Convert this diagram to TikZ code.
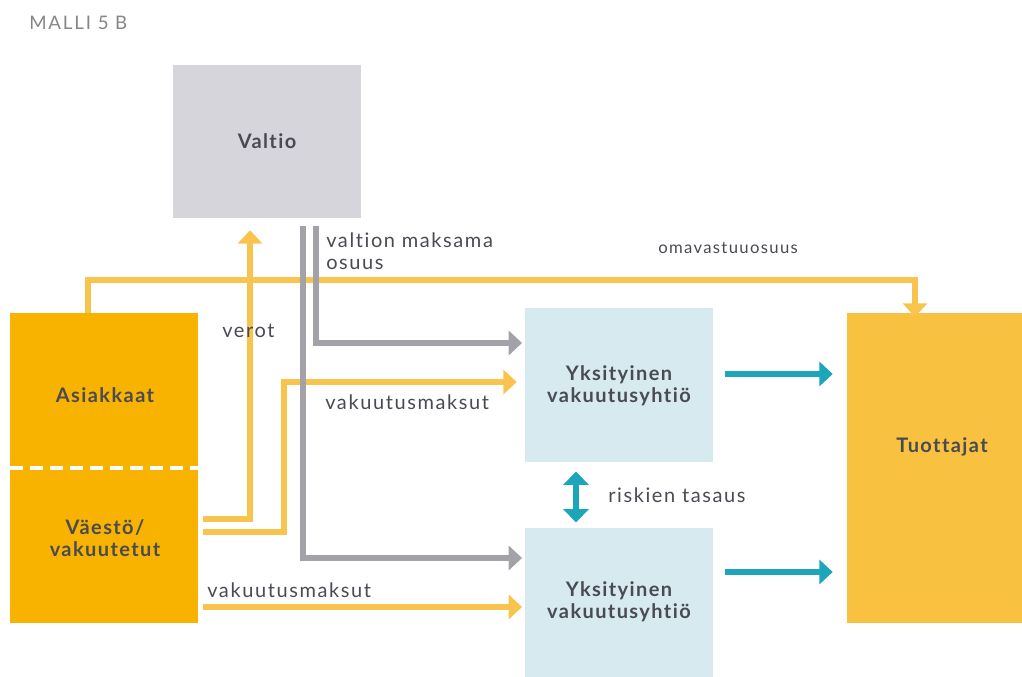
\documentclass[tikz,border=0pt]{standalone}
\usepackage{fontspec}
\setmainfont[Ligatures=NoCommon]{Lato}
\newfontfamily\labelfont[LetterSpace=8,Ligatures=NoCommon]{Lato}
\newfontfamily\boxfont[LetterSpace=7,Ligatures=NoCommon]{Lato}
\newfontfamily\titlefont[LetterSpace=10,Ligatures=NoCommon]{Lato}
\usetikzlibrary{arrows.meta,calc}

\definecolor{valtiogray}{HTML}{D7D5DC}
\definecolor{clientorange}{HTML}{F8B200}
\definecolor{prodyellow}{HTML}{F8C140}
\definecolor{insblue}{HTML}{D6EAF0}
\definecolor{flowyellow}{HTML}{F8C44E}
\definecolor{flowgray}{HTML}{A3A2A8}
\definecolor{flowteal}{HTML}{1BA6B9}
\definecolor{txtgray}{HTML}{4A4A52}
\definecolor{titlegray}{HTML}{86868A}

\tikzset{
  box/.style={rectangle, inner sep=0pt, draw=none},
  boxtext/.style={font=\boxfont\bfseries\fontsize{15}{16.5}\selectfont, text=txtgray, align=center},
  flowlabel/.style={font=\labelfont\fontsize{15}{16.5}\selectfont, text=txtgray, inner sep=0pt},
  smalllabel/.style={font=\labelfont\fontsize{12.5}{14}\selectfont, text=txtgray, inner sep=0pt},
  yflow/.style={draw=flowyellow, line width=3.8pt, -{Triangle[length=10pt,width=18pt]}},
  gflow/.style={draw=flowgray, line width=4.5pt, -{Triangle[length=10pt,width=18pt]}},
  tflow/.style={draw=flowteal, line width=4.5pt, -{Triangle[length=10pt,width=18pt]}},
  tboth/.style={draw=flowteal, line width=4.5pt, {Triangle[length=10pt,width=19pt]}-{Triangle[length=10pt,width=19pt]}},
}

\begin{document}
\begin{tikzpicture}[x=0.75pt,y=-0.75pt]
\useasboundingbox (0,0) rectangle (1022,677);

% title
\node[anchor=west, text=titlegray, font=\titlefont\fontsize{14}{16}\selectfont, inner sep=0pt] (title) at (29,23) {MALLI 5 B};

% boxes
\node[box, fill=valtiogray, minimum width=141pt, minimum height=114.75pt] (valtio) at (267,141.5) {};
\node[boxtext] (valtiot) at (valtio.center) {Valtio};

\node[box, fill=clientorange, minimum width=141pt, minimum height=232.5pt] (asiakkaat) at (104,468) {};
\draw[white, line width=3pt, dash pattern=on 10pt off 5pt] (asiakkaat.west) -- (asiakkaat.east);
\node[boxtext] (asiakkaatt) at (105,395) {Asiakkaat};
\node[boxtext] (vaesto) at (105,538) {Väestö/\\vakuutetut};

\node[box, fill=prodyellow, minimum width=131.25pt, minimum height=232.5pt] (tuottajat) at (934.5,468) {};
\node[boxtext] (tuottajatt) at (942,447) {Tuottajat};

\node[box, fill=insblue, minimum width=141pt, minimum height=115.5pt] (yk1) at (619,385) {};
\node[boxtext] (yk1t) at (619,386) {Yksityinen\\vakuutusyhtiö};

\node[box, fill=insblue, minimum width=141pt, minimum height=111.75pt] (yk2) at (619,602.5) {};
\node[boxtext] (yk2t) at (619,602) {Yksityinen\\vakuutusyhtiö};

% routing points
\coordinate (omaTop) at (88,280);
\coordinate (omaDown) at (915,280);
\coordinate (verotOut) at (203,519);
\coordinate (verotUp) at (250,519);
\coordinate (maksuOut) at (203,532);
\coordinate (maksuUp) at (284,532);
\coordinate (maksuRow) at (284,382);
\coordinate (gLongTop) at (303,226);
\coordinate (gLongDown) at (303,558);
\coordinate (gShortTop) at (316,226);
\coordinate (gShortDown) at (316,343);
\coordinate (maksu2Out) at (203,607);

% omavastuuosuus
\draw[yflow] (asiakkaat.north -| omaTop) -- (omaTop) -- (omaDown) -- ([yshift=-3pt]tuottajat.north -| omaDown);
\node[smalllabel, anchor=west] (omaL) at (658,248) {omavastuuosuus};

% verot
\draw[yflow] (verotOut) -- (verotUp) -- ([yshift=-9pt]valtio.south -| verotUp);
\node[flowlabel, anchor=west] (verotL) at (222,331) {verot};

% vakuutusmaksut, upper company
\draw[yflow] (maksuOut) -- (maksuUp) -- (maksuRow) -- ([xshift=-6pt]yk1.west |- maksuRow);
\node[flowlabel, anchor=west] (maksuL1) at (325,402) {vakuutusmaksut};

% state share
\draw[gflow] (gLongTop) -- (gLongDown) -- ([xshift=-2pt]yk2.west |- gLongDown);
\draw[gflow] (gShortTop) -- (gShortDown) -- ([xshift=-2pt]yk1.west |- gShortDown);
\node[flowlabel, anchor=west, align=left] (valtionL) at (326,251) {valtion maksama\\osuus};

% vakuutusmaksut, lower company
\draw[yflow] (maksu2Out) -- ([xshift=-2pt]yk2.west |- maksu2Out);
\node[flowlabel, anchor=west] (maksuL2) at (207,590) {vakuutusmaksut};

% payments to producers
\draw[tflow] ([xshift=9pt]yk1.east |- 0,374) -- ([xshift=-10.5pt]tuottajat.west |- 0,374);
\draw[tflow] ([xshift=9pt]yk2.east |- 0,572) -- ([xshift=-10.5pt]tuottajat.west |- 0,572);

% risk equalisation
\draw[tboth] ([yshift=-7pt]yk1.south -| 576,0) -- ([yshift=4pt]yk2.north -| 576,0);
\node[flowlabel, anchor=west] (riskL) at (608,495) {riskien tasaus};
\end{tikzpicture}
\end{document}
